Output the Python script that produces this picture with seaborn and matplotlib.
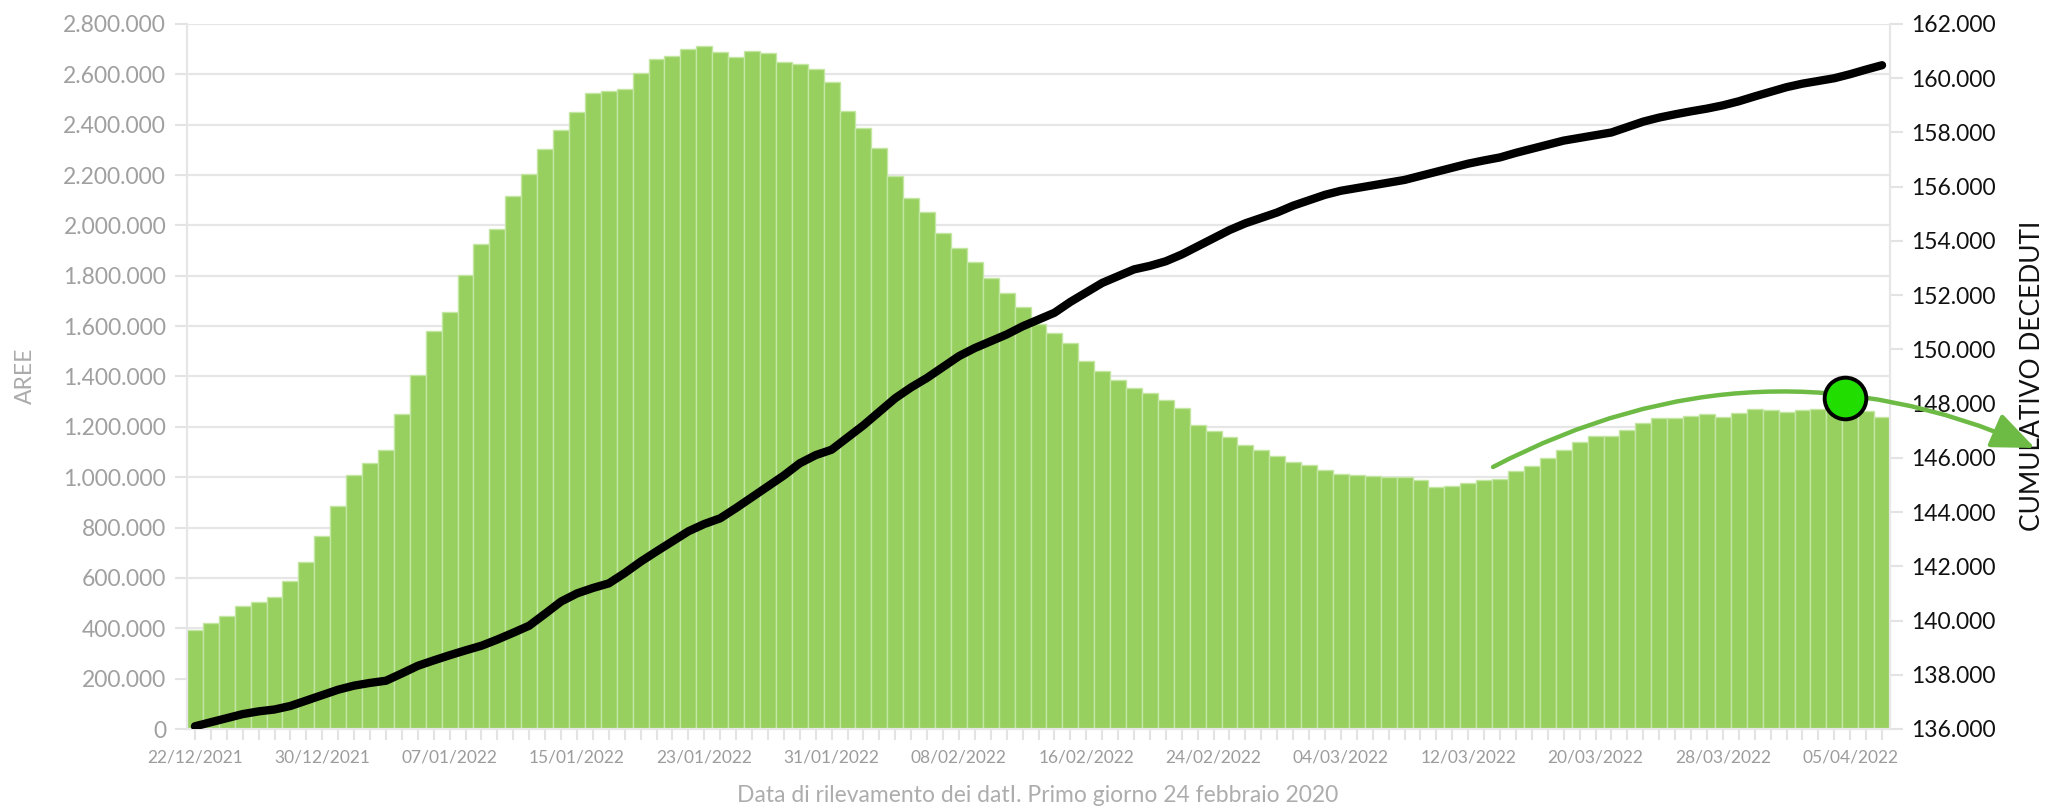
import matplotlib
matplotlib.use("Agg")
import matplotlib.pyplot as plt
import numpy as np
import pandas as pd
import seaborn as sns
from matplotlib.lines import Line2D
from matplotlib.patches import FancyArrowPatch
from matplotlib.ticker import FuncFormatter

# giorni dal 22/12/2021 al 07/04/2022
giorni = pd.date_range("2021-12-22", "2022-04-07", freq="D")

aree = [
    393000, 420000, 450000, 490000, 506000, 526000, 587000, 662000, 767000, 887000,
    1008000, 1056000, 1110000, 1250000, 1405000, 1579000, 1658000, 1803000, 1926000, 1985000,
    2115000, 2204000, 2303000, 2379000, 2450000, 2527000, 2534000, 2540000, 2605000, 2660000,
    2673000, 2702000, 2711000, 2687000, 2668000, 2694000, 2685000, 2648000, 2641000, 2621000,
    2571000, 2454000, 2385000, 2306000, 2197000, 2109000, 2053000, 1970000, 1909000, 1854000,
    1792000, 1731000, 1677000, 1609000, 1572000, 1532000, 1463000, 1421000, 1386000, 1353000,
    1333000, 1307000, 1275000, 1207000, 1185000, 1161000, 1128000, 1108000, 1086000, 1062000,
    1049000, 1029000, 1013000, 1008000, 1006000, 1000000, 1000000, 989000, 960000, 967000,
    976000, 989000, 993000, 1026000, 1044000, 1078000, 1110000, 1138000, 1164000, 1164000,
    1188000, 1216000, 1234000, 1234000, 1244000, 1252000, 1241000, 1254000, 1270000, 1265000,
    1258000, 1265000, 1272000, 1275000, 1268000, 1261000, 1241000,
]

deceduti = [
    136100, 136250, 136400, 136550, 136650, 136720, 136850, 137050, 137250, 137450,
    137600, 137700, 137780, 138050, 138330, 138530, 138720, 138900, 139070, 139300,
    139550, 139810, 140250, 140700, 141000, 141200, 141370, 141750, 142170, 142550,
    142920, 143290, 143560, 143770, 144150, 144550, 144950, 145350, 145800, 146100,
    146300, 146750, 147200, 147700, 148200, 148600, 148950, 149350, 149750, 150050,
    150300, 150550, 150850, 151100, 151350, 151750, 152100, 152450, 152700, 152950,
    153080, 153250, 153500, 153800, 154100, 154400, 154650, 154850, 155050, 155300,
    155500, 155700, 155850, 155950, 156050, 156150, 156250, 156400, 156550, 156700,
    156850, 156970, 157080, 157250, 157400, 157550, 157700, 157800, 157900, 158000,
    158200, 158400, 158550, 158670, 158780, 158880, 159000, 159150, 159330, 159500,
    159670, 159800, 159900, 160000, 160150, 160320, 160480,
]

etichette = [d.strftime("%d/%m/%Y") for d in giorni]

sns.set_theme(style="white")
plt.rcParams["font.family"] = ["Lato", "DejaVu Sans"]

W, H = 2048, 808
fig = plt.figure(figsize=(W / 100, H / 100), dpi=100)
ax = fig.add_axes([187 / W, 1 - 729 / H, 1703 / W, 705 / H])

pos = np.arange(len(giorni))
sns.barplot(x=pos, y=aree, ax=ax, color="#97d05f", saturation=1, width=1.0,
            edgecolor="#c4e6a3", linewidth=1.0, zorder=2)

ax.set_xlim(-0.5, len(giorni) - 0.5)
ax.set_ylim(0, 2_800_000)
ax.set_yticks(np.arange(0, 2_800_001, 200_000))
fmt = FuncFormatter(lambda v, _: f"{v:,.0f}".replace(",", "."))
ax.yaxis.set_major_formatter(fmt)
ax.grid(axis="y", color="#e6e6e6", linewidth=1.6, zorder=0)
ax.set_axisbelow(True)

major = pos[::8]
ax.set_xticks(major)
ax.set_xticklabels([etichette[i] for i in major])
ax.set_xticks(pos, minor=True)
ax.tick_params(axis="x", which="both", bottom=True, length=8, width=1.5, color="#e3e3e3",
               labelcolor="#9c9c9c", labelsize=12.5, pad=7)
ax.tick_params(axis="y", left=True, length=9, width=1.5, color="#e3e3e3",
               labelcolor="#a0a0a0", labelsize=16.5, pad=6)
ax.set_xlabel("")
ax.set_ylabel("")
for side in ["top", "right"]:
    ax.spines[side].set_visible(False)
for side in ["left", "bottom"]:
    ax.spines[side].set_color("#e6e6e6")
    ax.spines[side].set_linewidth(1.6)

ax2 = ax.twinx()
sns.lineplot(x=pos, y=deceduti, ax=ax2, color="black", linewidth=6.0,
             solid_capstyle="round", solid_joinstyle="round")
ax2.set_xlim(-0.5, len(giorni) - 0.5)
ax2.set_ylim(136_000, 162_000)
ax2.set_yticks(np.arange(136_000, 162_001, 2_000))
ax2.yaxis.set_major_formatter(fmt)
ax2.set_ylabel("")
ax2.tick_params(axis="y", right=True, length=9, width=1.5, color="#e3e3e3",
                labelcolor="#111111", labelsize=16.5, pad=6)
for side in ["top", "left", "bottom"]:
    ax2.spines[side].set_visible(False)
ax2.spines["right"].set_color("#e6e6e6")
ax2.spines["right"].set_linewidth(1.6)

fig.text(1038 / W, 1 - 795 / H, "Data di rilevamento dei datI. Primo giorno 24 febbraio 2020",
         ha="center", va="center", fontsize=16.5, color="#adadad")
fig.text(25 / W, 1 - 376 / H, "AREE", rotation=90, ha="center", va="center",
         fontsize=16.5, color="#ababab")
fig.text(2033 / W, 1 - 376 / H, "CUMULATIVO DECEDUTI", rotation=90, ha="center",
         va="center", fontsize=19, color="#111111")

# freccia verde e cerchio
freccia = FancyArrowPatch((1493 / W, 1 - 467 / H), (2035 / W, 1 - 448 / H),
                          transform=fig.transFigure,
                          connectionstyle="arc3,rad=-0.24",
                          arrowstyle="-|>,head_length=1.2,head_width=0.5",
                          mutation_scale=22, color="#6dbb45", linewidth=3.2,
                          shrinkA=0, shrinkB=0, zorder=5)
fig.add_artist(freccia)
fig.add_artist(Line2D([1845 / W], [1 - 398 / H], transform=fig.transFigure, marker="o",
                      markersize=30, markerfacecolor="#22dd00", markeredgecolor="black",
                      markeredgewidth=2.8, linestyle="none", zorder=6))

fig.savefig("out.png", dpi=100)
